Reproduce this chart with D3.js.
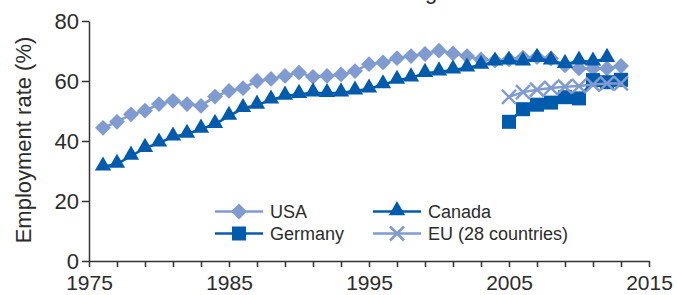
<!DOCTYPE html>
<html>
<head>
<meta charset="utf-8">
<script src="https://d3js.org/d3.v7.min.js"></script>
<style>
  body { margin: 0; background: #fff; }
  svg { display: block; font-family: "Liberation Sans", Arial, sans-serif; }
</style>
</head>
<body>
<svg id="chart" width="677" height="295"></svg>
<script>
// years and values
const usaYears = d3.range(1976, 2014);
const usaValues = [44.4, 46.4, 48.9, 50.1, 52.3, 53.4, 52.3, 51.7, 54.8, 56.7,
  57.6, 60.0, 60.7, 61.7, 62.8, 61.4, 61.7, 62.2, 63.3, 65.6,
  66.2, 67.6, 68.3, 69.0, 70.1, 69.2, 68.3, 67.2, 66.8, 67.2,
  67.8, 68.0, 67.5, 65.2, 64.2, 64.2, 64.2, 65.0];

const canadaYears = d3.range(1976, 2013);
const canadaValues = [31.4, 32.3, 35.0, 37.6, 39.4, 41.4, 42.3, 44.0, 45.6, 48.3,
  50.9, 52.0, 53.7, 55.0, 55.6, 56.1, 55.9, 56.1, 56.7, 57.4,
  58.8, 60.3, 61.1, 62.6, 63.1, 63.7, 64.4, 65.3, 66.4, 66.7,
  66.4, 67.6, 66.7, 65.6, 66.7, 66.4, 67.6];

const germanyYears = d3.range(2005, 2014);
const germanyValues = [46.4, 50.6, 52.1, 52.8, 54.6, 54.2, 60.3, 59.6, 60.4];

const euYears = d3.range(2005, 2014);
const euValues = [54.7, 56.3, 57.1, 57.7, 58.1, 58.3, 58.8, 59.2, 59.2];

const xTicks = d3.range(1975, 2016, 2);
const xLabels = [1975, 1985, 1995, 2005, 2015];
const yTicks = [0, 20, 40, 60, 80];

const light = "#7f9bd0";
const dark = "#005bac";
const ink = "#2b2b2b";

const svg = d3.select("#chart");

const x = d3.scaleLinear().domain([1975, 2015]).range([89, 649]);
const y = d3.scaleLinear().domain([0, 80]).range([261, 21]);

// title, mostly cut off at the top edge
svg.append("text")
  .attr("x", 431).attr("y", -1.5)
  .attr("text-anchor", "middle")
  .attr("font-size", 22)
  .attr("fill", ink)
  .text("g");

// axes
const xAxis = svg.append("g")
  .attr("transform", `translate(0,${y(0)})`)
  .call(d3.axisBottom(x).tickValues(xTicks).tickSize(6).tickSizeOuter(0)
    .tickFormat(d => xLabels.includes(d) ? d : ""));
xAxis.selectAll("text").attr("font-size", 21).attr("dy", "0.78em").attr("y", 13);

const yAxis = svg.append("g")
  .attr("transform", `translate(${x(1975)},0)`)
  .call(d3.axisLeft(y).tickValues(yTicks).tickSize(7).tickSizeOuter(0));
yAxis.selectAll("text").attr("font-size", 22).attr("x", -10);

svg.selectAll(".domain, .tick line").attr("stroke", "#333").attr("stroke-width", 1.5);
svg.selectAll(".tick text").attr("fill", ink).attr("font-family", "Liberation Sans, Arial, sans-serif");

svg.append("text")
  .attr("transform", `translate(31,${y(40) - 1}) rotate(-90)`)
  .attr("text-anchor", "middle")
  .attr("font-size", 22)
  .attr("fill", ink)
  .text("Employment rate (%)");

// marker shapes
const diamond = d3.symbol().type(d3.symbolDiamond2).size(160)();
const triangle = d3.symbol().type(d3.symbolTriangle).size(115)();
const square = d3.symbol().type(d3.symbolSquare).size(196)();

function drawMarker(g, kind, color) {
  if (kind === "diamond") g.append("path").attr("d", diamond).attr("fill", color);
  if (kind === "triangle") g.append("path").attr("d", triangle).attr("fill", color).attr("transform", "translate(0,-1)");
  if (kind === "square") g.append("path").attr("d", square).attr("fill", color);
  if (kind === "cross") {
    g.append("path").attr("d", "M-7,-7L7,7M-7,7L7,-7")
      .attr("stroke", color).attr("stroke-width", 2.5).attr("fill", "none");
  }
}

const series = [
  { name: "USA", years: usaYears, values: usaValues, color: light, kind: "diamond" },
  { name: "Canada", years: canadaYears, values: canadaValues, color: dark, kind: "triangle" },
  { name: "Germany", years: germanyYears, values: germanyValues, color: dark, kind: "square" },
  { name: "EU (28 countries)", years: euYears, values: euValues, color: light, kind: "cross" }
];

const line = d3.line().x(d => x(d[0])).y(d => y(d[1]));

series.forEach(s => {
  const pts = s.years.map((yr, i) => [yr, s.values[i]]);
  svg.append("path")
    .datum(pts)
    .attr("d", line)
    .attr("fill", "none")
    .attr("stroke", s.color)
    .attr("stroke-width", 2.5);
  svg.append("g").selectAll("g")
    .data(pts)
    .join("g")
    .attr("transform", d => `translate(${x(d[0])},${y(d[1])})`)
    .each(function () { drawMarker(d3.select(this), s.kind, s.color); });
});

// legend
const legendPos = [[215, 211.5], [373, 211.5], [215, 233.5], [373, 233.5]];
series.forEach((s, i) => {
  const [lx, ly] = legendPos[i];
  const g = svg.append("g").attr("transform", `translate(${lx},${ly})`);
  g.append("line").attr("x1", 0).attr("x2", 48).attr("y1", 0).attr("y2", 0)
    .attr("stroke", s.color).attr("stroke-width", 2.5);
  const m = g.append("g").attr("transform", "translate(24,0)");
  drawMarker(m, s.kind, s.color);
  g.append("text").attr("x", 55).attr("y", 0).attr("dy", "0.35em")
    .attr("font-size", 18).attr("fill", ink).text(s.name);
});
</script>
</body>
</html>
